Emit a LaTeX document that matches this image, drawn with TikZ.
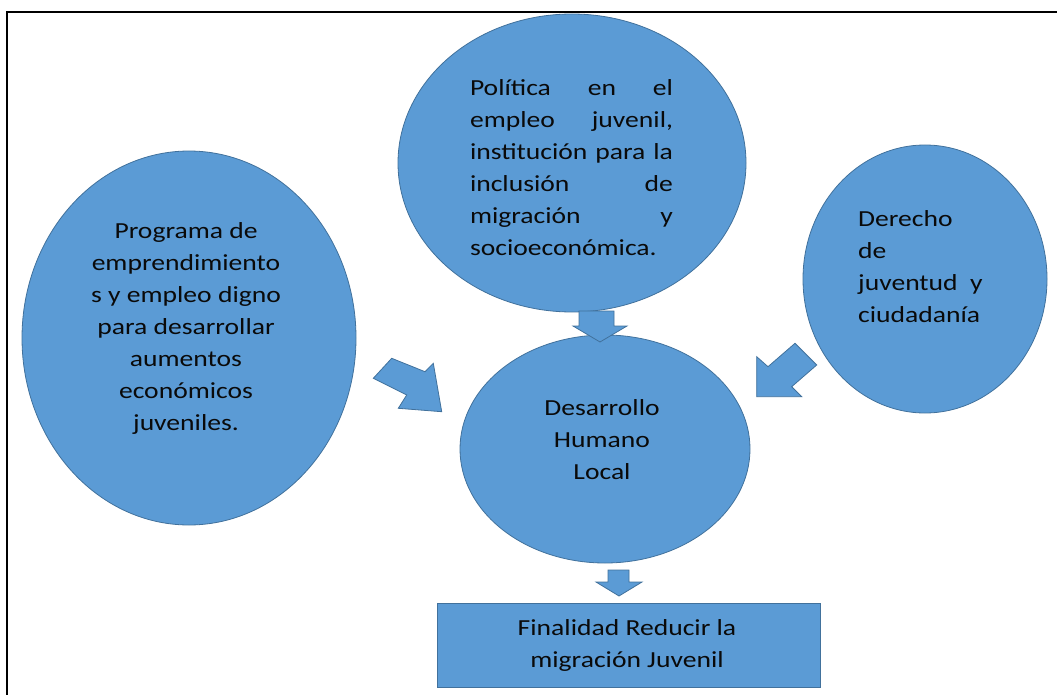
\documentclass[tikz,border=0pt]{standalone}
\usepackage{fontspec}
\setmainfont{Carlito}[FakeStretch=1.2]
\usetikzlibrary{shapes.geometric}
\definecolor{bfill}{HTML}{5B9BD5}
\definecolor{bline}{HTML}{41719C}
\definecolor{txt}{HTML}{0A0A0A}
\tikzset{
  bubble/.style={ellipse, draw=bline, fill=bfill, line width=0.8pt, inner sep=0pt},
  blockarrow/.style={draw=bline, fill=bfill, line width=0.8pt, line join=miter},
  lbl/.style={inner sep=0pt, text=txt, font=\fontsize{23}{32}\selectfont},
}
\begin{document}
\begin{tikzpicture}[x=1pt,y=-1pt]
\useasboundingbox (0,0) rectangle (1057,695);
% frame
\coordinate (fa) at (7,695);
\coordinate (fb) at (7,12);
\coordinate (fc) at (1057,12);
\draw[line width=2pt] (fa) -- (fb) -- (fc);
% ellipses
\node[bubble, minimum width=334pt, minimum height=374pt] (left) at (189,338) {};
\node[bubble, minimum width=348pt, minimum height=298pt] (top) at (572,163) {};
\node[bubble, minimum width=244pt, minimum height=268pt] (right) at (925,279) {};
\node[bubble, minimum width=290pt, minimum height=228pt] (center) at (605,449) {};
\node[draw=bline, fill=bfill, line width=0.8pt, minimum width=383pt, minimum height=84pt, inner sep=0pt] (goal) at (628.5,645.5) {};
% arrows
\draw[blockarrow] (579,311) -- (614,311) -- (614,326) -- (627,326) -- (600,342) -- (573,326) -- (579,326) -- cycle;
\draw[blockarrow] (608,570) -- (629,570) -- (629,582) -- (642,582) -- (619,596) -- (596,582) -- (608,582) -- cycle;
\draw[blockarrow] (373.3,378.3) -- (391.7,358.3) -- (425,371.7) -- (433.3,363.3) -- (441.7,411.7) -- (398.3,408.3) -- (406.7,395) -- cycle;
\draw[blockarrow] (795,343.3) -- (816.7,365) -- (791.7,386.7) -- (801.7,396.7) -- (756.7,396.7) -- (756.7,356.7) -- (768,366.7) -- cycle;
% texts
\node[lbl, align=center] (tleft) at (186,328) {Programa de\\emprendimiento\\s y empleo digno\\para desarrollar\\aumentos\\económicos\\juveniles.};
\node[lbl, align=left] (ttop) at (571.5,168) {%
\makebox[203pt][s]{Política en el}\\
\makebox[203pt][s]{empleo juvenil,}\\
\makebox[203pt][s]{institución para la}\\
\makebox[203pt][s]{inclusión de}\\
\makebox[203pt][s]{migración y}\\
socioeconómica.};
\node[lbl, align=left, anchor=west] (tright) at (858,267) {Derecho\\de\\juventud\ \ y\\ciudadanía};
\node[lbl, align=center] (tcenter) at (602,440) {Desarrollo\\Humano\\Local};
\node[lbl, align=center] (tgoal) at (627,645) {Finalidad Reducir la\\migración Juvenil};
\end{tikzpicture}
\end{document}
